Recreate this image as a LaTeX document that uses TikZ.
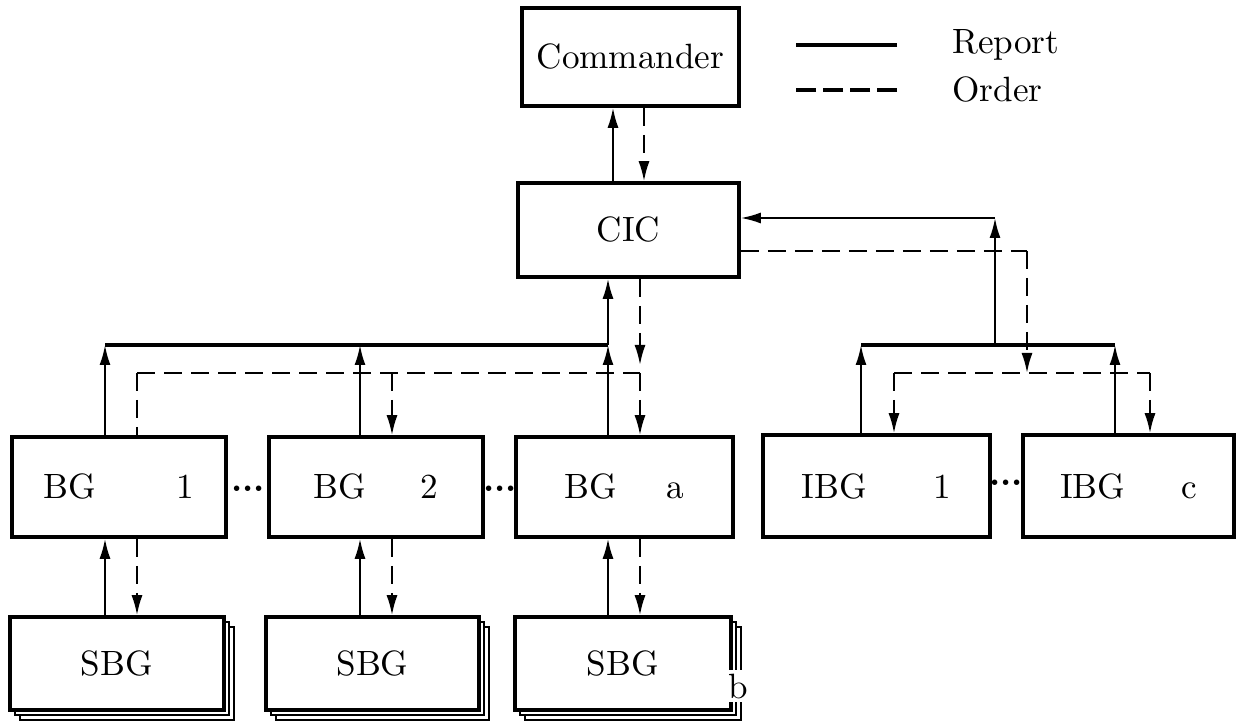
\documentclass[tikz,border=0pt]{standalone}
\usepackage{tikz}
\usetikzlibrary{arrows.meta,shadows}

\tikzset{
  box/.style={rectangle,draw,line width=1pt,minimum height=1cm,inner sep=2pt},
  stack/.style={box,fill=white,double copy shadow={shadow xshift=0.05cm,shadow yshift=-0.05cm,line width=0.7pt}},
  report/.style={line width=0.6pt,-{Latex[length=2mm,width=1.1mm]}},
  order/.style={report,dash pattern=on 1.8mm off 0.9mm},
  bus/.style={line width=0.9pt},
  dots/.style={inner sep=0pt,font=\bfseries}
}

\begin{document}
\begin{tikzpicture}
	\useasboundingbox (0,0) rectangle (12.38,-7.25);
	\begin{scope}
		\node[box,minimum width=2.17cm,minimum height=0.98cm] (cmd) at (6.305,-0.57) {Commander};
		\node[box,minimum width=2.21cm,minimum height=0.94cm] (cic) at (6.285,-2.30) {CIC};

		\node[box,minimum width=2.14cm] (BG1) at (1.19,-4.87) {BG\hspace{0.8cm}1};
		\node[box,minimum width=2.14cm] (BG2) at (3.76,-4.87) {BG\hspace{0.55cm}2};
		\node[box,minimum width=2.17cm] (BGa) at (6.245,-4.87) {BG\hspace{0.5cm}a};
		\node[box,minimum width=2.27cm,minimum height=1.02cm] (IBG1) at (8.765,-4.86) {IBG\hspace{0.67cm}1};
		\node[box,minimum width=2.11cm,minimum height=1.02cm] (IBGc) at (11.285,-4.86) {IBG\hspace{0.56cm}c};

		\node[dots] (d1) at (2.48,-4.89) {...};
		\node[dots] (d2) at (5.00,-4.89) {...};
		\node[dots] (d3) at (10.06,-4.83) {...};

		\node[stack,minimum width=2.14cm,minimum height=0.93cm] (SBG1) at (1.17,-6.635) {SBG};
		\node[stack,minimum width=2.13cm,minimum height=0.93cm] (SBG2) at (3.725,-6.635) {SBG};
		\node[stack,minimum width=2.16cm,minimum height=0.93cm] (SBGa) at (6.23,-6.635) {SBG};
		\node[fill=white,inner sep=1pt] (nb) at (7.38,-6.86) {b};

		% legend
		\node[anchor=west] (rep) at (9.40,-0.45) {Report};
		\node[anchor=west] (ord) at (9.40,-0.90) {Order};
	\end{scope}

	% columns and rows of the connectors
	\coordinate (r1) at (1.05,0);  \coordinate (o1) at (1.37,0);
	\coordinate (r2) at (3.60,0);  \coordinate (o2) at (3.92,0);
	\coordinate (ra) at (6.08,0);  \coordinate (oa) at (6.40,0);
	\coordinate (rc) at (6.13,0);  \coordinate (oc) at (6.44,0);
	\coordinate (ri1) at (8.61,0); \coordinate (oi1) at (8.94,0);
	\coordinate (ric) at (11.15,0); \coordinate (oic) at (11.50,0);
	\coordinate (ti) at (9.95,0);  \coordinate (to) at (10.27,0);
	\coordinate (rb) at (0,-3.45); \coordinate (ob) at (0,-3.73);
	\coordinate (rt) at (0,-2.18); \coordinate (ot) at (0,-2.51);

	\begin{scope}
	% commander and CIC
	\draw[report] (cic.north -| rc) -- (cmd.south -| rc);
	\draw[order] (cmd.south -| oc) -- (cic.north -| oc);

	% BG side
	\draw[bus] (r1 |- rb) -- (ra |- rb);
	\draw[report] (BG1.north -| r1) -- (r1 |- rb);
	\draw[report] (BG2.north -| r2) -- (r2 |- rb);
	\draw[report] (BGa.north -| ra) -- (ra |- rb);
	\draw[report] (ra |- rb) -- (cic.south -| ra);
	\draw[order,-] (o1 |- ob) -- (oa |- ob);
	\draw[order,-] (o1 |- ob) -- (BG1.north -| o1);
	\draw[order] (o2 |- ob) -- (BG2.north -| o2);
	\draw[order] (cic.south -| oa) -- ([yshift=0.08cm]oa |- ob);
	\draw[order] (oa |- ob) -- (BGa.north -| oa);

	% IBG side
	\draw[bus] (ri1 |- rb) -- (ric |- rb);
	\draw[report] (IBG1.north -| ri1) -- (ri1 |- rb);
	\draw[report] (IBGc.north -| ric) -- (ric |- rb);
	\draw[report] (ti |- rb) -- (ti |- rt);
	\draw[report] (ti |- rt) -- (cic.east |- rt);
	\draw[order,-] (cic.east |- ot) -- (to |- ot);
	\draw[order] (to |- ot) -- (to |- ob);
	\draw[order,-] (oi1 |- ob) -- (oic |- ob);
	\draw[order] (oi1 |- ob) -- (IBG1.north -| oi1);
	\draw[order] (oic |- ob) -- (IBGc.north -| oic);

	% BG and SBG
	\foreach \g/\r/\o in {1/r1/o1,2/r2/o2,a/ra/oa}{
		\draw[report] (SBG\g.north -| \r) -- (BG\g.south -| \r);
		\draw[order] (BG\g.south -| \o) -- (SBG\g.north -| \o);
	}

	% legend
	\draw[line width=1.3pt] ([xshift=-0.43cm]rep.west) -- ++(-1.01,0);
	\draw[line width=1.3pt,dash pattern=on 2mm off 0.7mm] ([xshift=-0.43cm]ord.west) -- ++(-1.01,0);
	\end{scope}
\end{tikzpicture}
\end{document}
